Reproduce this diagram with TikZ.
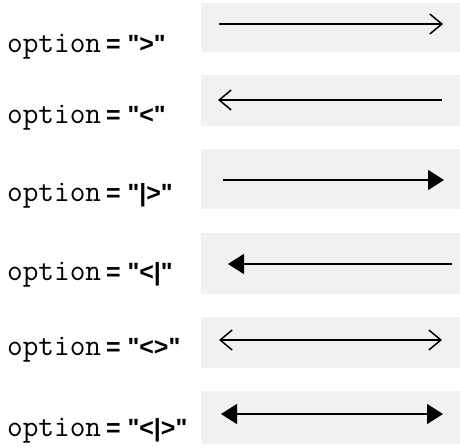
\documentclass[tikz,border=0pt]{standalone}
\usepackage{fontspec}
\newfontfamily\lsans{Liberation Sans}
\usetikzlibrary{arrows.meta}
\definecolor{boxgrey}{HTML}{F1F1F1}
\tikzset{
  x=1bp, y=-1bp,
  panel/.style={fill=boxgrey, draw=none},
  arrowline/.style={line width=1.6bp, black},
  open/.style={arrowline, -{Straight Barb[length=12bp,width=20bp,line width=1.5bp]}},
  openl/.style={arrowline, {Straight Barb[length=12bp,width=20bp,line width=1.5bp]}-},
  openb/.style={arrowline, {Straight Barb[length=12bp,width=20bp,line width=1.5bp]}-{Straight Barb[length=12bp,width=20bp,line width=1.5bp]}},
  solid/.style={arrowline, -{Triangle[length=16bp,width=20bp]}},
  solidl/.style={arrowline, {Triangle[length=16bp,width=20bp]}-},
  solidb/.style={arrowline, {Triangle[length=16bp,width=20bp]}-{Triangle[length=16bp,width=20bp]}},
  kw/.style={inner sep=0pt, anchor=base west, font=\fontsize{30.5}{30}\selectfont\ttfamily},
  val/.style={inner sep=0pt, anchor=base west, font=\fontsize{25}{25}\selectfont\lsans\bfseries},
}
\begin{document}
\begin{tikzpicture}
\useasboundingbox (0,0) rectangle (460,448);
% panels
\fill[panel] (201,3) rectangle (460,52);
\fill[panel] (201,75) rectangle (460,126);
\fill[panel] (201,149) rectangle (460,209);
\fill[panel] (201,233) rectangle (460,294);
\fill[panel] (201,317) rectangle (460,368);
\fill[panel] (201,391) rectangle (460,444);
% labels
\foreach \i/\yy/\t in {1/53/{">"},2/124/{"<"},3/202/{"|>"},4/280/{"<|"},5/355/{"<>"},6/436/{"<|>"}}{
  \node[kw] (k\i) at (7,\yy) {option};
  \node[val] (v\i) at (106,\yy) {= \t};
}
% arrow ends
\coordinate (a1) at (219,24);  \coordinate (b1) at (443,24);
\coordinate (a2) at (218,100); \coordinate (b2) at (442,100);
\coordinate (a3) at (223,180); \coordinate (b3) at (444,180);
\coordinate (a4) at (228,264); \coordinate (b4) at (452,264);
\coordinate (a5) at (219,340); \coordinate (b5) at (442,340);
\coordinate (a6) at (221,414); \coordinate (b6) at (443,414);
\draw[open] (a1) -- (b1);
\draw[openl] (a2) -- (b2);
\draw[solid] (a3) -- (b3);
\draw[solidl] (a4) -- (b4);
\draw[openb] (a5) -- (b5);
\draw[solidb] (a6) -- (b6);
\end{tikzpicture}
\end{document}
